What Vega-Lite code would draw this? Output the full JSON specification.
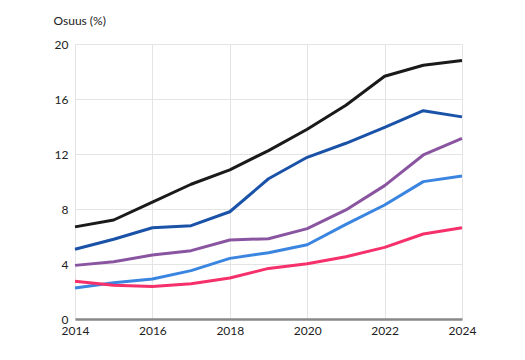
{
  "$schema": "https://vega.github.io/schema/vega-lite/v6.json",
  "width": 387,
  "height": 275,
  "autosize": {"type": "none"},
  "padding": {"left": 75, "top": 44, "right": 63, "bottom": 41},
  "background": "white",
  "config": {
    "font": "Lato",
    "view": {"stroke": null}
  },
  "data": {
    "values": [
      {"vuosi": 2014, "sarja": "A", "arvo": 6.7},
      {"vuosi": 2015, "sarja": "A", "arvo": 7.2},
      {"vuosi": 2016, "sarja": "A", "arvo": 8.5},
      {"vuosi": 2017, "sarja": "A", "arvo": 9.8},
      {"vuosi": 2018, "sarja": "A", "arvo": 10.85},
      {"vuosi": 2019, "sarja": "A", "arvo": 12.25},
      {"vuosi": 2020, "sarja": "A", "arvo": 13.8},
      {"vuosi": 2021, "sarja": "A", "arvo": 15.55},
      {"vuosi": 2022, "sarja": "A", "arvo": 17.65},
      {"vuosi": 2023, "sarja": "A", "arvo": 18.45},
      {"vuosi": 2024, "sarja": "A", "arvo": 18.8},
      {"vuosi": 2014, "sarja": "B", "arvo": 5.07},
      {"vuosi": 2015, "sarja": "B", "arvo": 5.8},
      {"vuosi": 2016, "sarja": "B", "arvo": 6.64},
      {"vuosi": 2017, "sarja": "B", "arvo": 6.79},
      {"vuosi": 2018, "sarja": "B", "arvo": 7.8},
      {"vuosi": 2019, "sarja": "B", "arvo": 10.2},
      {"vuosi": 2020, "sarja": "B", "arvo": 11.76},
      {"vuosi": 2021, "sarja": "B", "arvo": 12.78},
      {"vuosi": 2022, "sarja": "B", "arvo": 13.94},
      {"vuosi": 2023, "sarja": "B", "arvo": 15.15},
      {"vuosi": 2024, "sarja": "B", "arvo": 14.7},
      {"vuosi": 2014, "sarja": "C", "arvo": 3.9},
      {"vuosi": 2015, "sarja": "C", "arvo": 4.17},
      {"vuosi": 2016, "sarja": "C", "arvo": 4.65},
      {"vuosi": 2017, "sarja": "C", "arvo": 4.97},
      {"vuosi": 2018, "sarja": "C", "arvo": 5.75},
      {"vuosi": 2019, "sarja": "C", "arvo": 5.84},
      {"vuosi": 2020, "sarja": "C", "arvo": 6.57},
      {"vuosi": 2021, "sarja": "C", "arvo": 7.93},
      {"vuosi": 2022, "sarja": "C", "arvo": 9.7},
      {"vuosi": 2023, "sarja": "C", "arvo": 11.93},
      {"vuosi": 2024, "sarja": "C", "arvo": 13.14},
      {"vuosi": 2014, "sarja": "D", "arvo": 2.25},
      {"vuosi": 2015, "sarja": "D", "arvo": 2.64},
      {"vuosi": 2016, "sarja": "D", "arvo": 2.91},
      {"vuosi": 2017, "sarja": "D", "arvo": 3.52},
      {"vuosi": 2018, "sarja": "D", "arvo": 4.41},
      {"vuosi": 2019, "sarja": "D", "arvo": 4.82},
      {"vuosi": 2020, "sarja": "D", "arvo": 5.4},
      {"vuosi": 2021, "sarja": "D", "arvo": 6.88},
      {"vuosi": 2022, "sarja": "D", "arvo": 8.29},
      {"vuosi": 2023, "sarja": "D", "arvo": 9.99},
      {"vuosi": 2024, "sarja": "D", "arvo": 10.4},
      {"vuosi": 2014, "sarja": "E", "arvo": 2.74},
      {"vuosi": 2015, "sarja": "E", "arvo": 2.45},
      {"vuosi": 2016, "sarja": "E", "arvo": 2.37},
      {"vuosi": 2017, "sarja": "E", "arvo": 2.57},
      {"vuosi": 2018, "sarja": "E", "arvo": 2.98},
      {"vuosi": 2019, "sarja": "E", "arvo": 3.68},
      {"vuosi": 2020, "sarja": "E", "arvo": 4.02},
      {"vuosi": 2021, "sarja": "E", "arvo": 4.53},
      {"vuosi": 2022, "sarja": "E", "arvo": 5.21},
      {"vuosi": 2023, "sarja": "E", "arvo": 6.18},
      {"vuosi": 2024, "sarja": "E", "arvo": 6.64}
    ]
  },
  "mark": {"type": "line", "strokeWidth": 3, "strokeJoin": "round", "strokeCap": "butt"},
  "encoding": {
    "x": {
      "field": "vuosi",
      "type": "quantitative",
      "scale": {"domain": [2014, 2024], "nice": false, "zero": false},
      "axis": {
        "values": [2014, 2016, 2018, 2020, 2022, 2024],
        "format": "d",
        "title": null,
        "grid": true,
        "gridColor": "#e4e4e4",
        "gridWidth": 1,
        "domainColor": "#888888",
        "domainWidth": 2.5,
        "ticks": false,
        "labelPadding": 6,
        "labelFontSize": 12,
        "labelColor": "#222222",
        "labelFlush": false
      }
    },
    "y": {
      "field": "arvo",
      "type": "quantitative",
      "scale": {"domain": [0, 20], "nice": false},
      "axis": {
        "values": [0, 4, 8, 12, 16, 20],
        "title": "Osuus (%)",
        "titleAngle": 0,
        "titleAlign": "left",
        "titleBaseline": "alphabetic",
        "titleX": -22,
        "titleY": -20,
        "titleFontSize": 12,
        "titleFontWeight": "normal",
        "titleColor": "#222222",
        "grid": true,
        "gridColor": "#e4e4e4",
        "gridWidth": 1,
        "domain": false,
        "ticks": false,
        "labelPadding": 7,
        "labelFontSize": 12,
        "labelColor": "#222222"
      }
    },
    "color": {
      "field": "sarja",
      "type": "nominal",
      "scale": {
        "domain": ["A", "B", "C", "D", "E"],
        "range": ["#1a1a1a", "#1a52a8", "#8a55a0", "#3a85e0", "#f5306a"]
      },
      "legend": null
    }
  }
}
